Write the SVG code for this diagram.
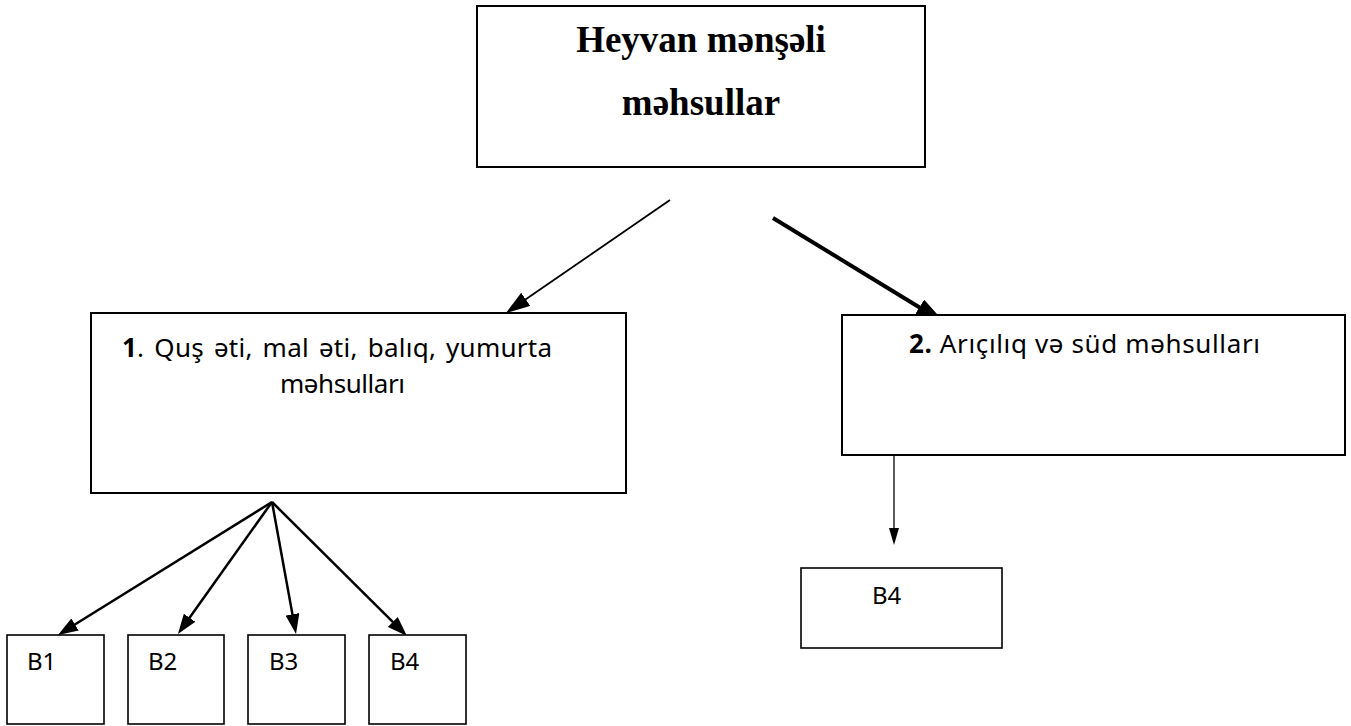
<svg xmlns="http://www.w3.org/2000/svg" width="1351" height="726" viewBox="0 0 1351 726">
<style>
  .box { fill: #ffffff; stroke: #000000; stroke-width: 2; }
  .sbox { fill: #ffffff; stroke: #000000; stroke-width: 1.6; }
  .title { font-family: "Liberation Serif", "Times New Roman", serif; font-weight: bold; font-size: 37px; fill: #000; }
  .lbl { font-family: "Noto Sans", "Open Sans", sans-serif; font-size: 26px; fill: #000; }
  .blbl { font-family: "Noto Sans", "Open Sans", sans-serif; font-size: 24px; fill: #000; }
  .conn { fill: none; stroke: #000; }
</style>
<defs>
  <marker id="headA" markerUnits="userSpaceOnUse" markerWidth="24" markerHeight="16" refX="14" refY="8" orient="auto">
    <path d="M0,0 L24,8 L0,16 z" fill="#000"/>
  </marker>
  <marker id="headB" markerUnits="userSpaceOnUse" markerWidth="30" markerHeight="18" refX="18" refY="9" orient="auto">
    <path d="M0,0 L30,9 L0,18 z" fill="#000"/>
  </marker>
  <marker id="headC" markerUnits="userSpaceOnUse" markerWidth="20" markerHeight="14" refX="12" refY="7" orient="auto">
    <path d="M0,0 L20,7 L0,14 z" fill="#000"/>
  </marker>
  <marker id="headD" markerUnits="userSpaceOnUse" markerWidth="17" markerHeight="10" refX="9" refY="5" orient="auto">
    <path d="M0,0 L17,5 L0,10 z" fill="#000"/>
  </marker>
</defs>
<rect width="1351" height="726" fill="#ffffff"/>

<g id="connectors">
  <line class="conn" x1="670" y1="200" x2="514.2" y2="307.3" stroke-width="1.8" marker-end="url(#headA)"/>
  <line class="conn" x1="773" y1="218" x2="934.8" y2="316.7" stroke-width="4" marker-end="url(#headB)"/>
  <line class="conn" x1="272" y1="502" x2="64.8" y2="630.8" stroke-width="2.5" marker-end="url(#headC)"/>
  <line class="conn" x1="272" y1="502" x2="182.6" y2="627.5" stroke-width="2.5" marker-end="url(#headC)"/>
  <line class="conn" x1="272" y1="502" x2="294.6" y2="626.1" stroke-width="2.5" marker-end="url(#headC)"/>
  <line class="conn" x1="272" y1="502" x2="401.3" y2="630.4" stroke-width="2.5" marker-end="url(#headC)"/>
  <line class="conn" x1="894" y1="456" x2="894" y2="537" stroke-width="1.3" marker-end="url(#headD)"/>
</g>

<g id="node-root">
  <rect class="box" x="477" y="6" width="448" height="161"/>
  <text class="title" x="701" y="52" text-anchor="middle">Heyvan mənşəli</text>
  <text class="title" x="701" y="115" text-anchor="middle">məhsullar</text>
</g>

<g id="node-1">
  <rect class="box" x="91" y="313" width="535" height="180"/>
  <text class="lbl" x="122" y="357" word-spacing="3" textLength="430" lengthAdjust="spacing"><tspan font-weight="bold">1</tspan>. Quş əti, mal əti, balıq, yumurta</text>
  <text class="lbl" x="280" y="393" textLength="125" lengthAdjust="spacing">məhsulları</text>
</g>

<g id="node-2">
  <rect class="box" x="842" y="315" width="503" height="140"/>
  <text class="lbl" x="909" y="353" textLength="351" lengthAdjust="spacing"><tspan font-weight="bold">2.</tspan> Arıçılıq və süd məhsulları</text>
</g>

<g id="node-b1">
  <rect class="sbox" x="7" y="635" width="97" height="89"/>
  <text class="blbl" x="27" y="670">B1</text>
</g>
<g id="node-b2">
  <rect class="sbox" x="128" y="635" width="96" height="89"/>
  <text class="blbl" x="148" y="670">B2</text>
</g>
<g id="node-b3">
  <rect class="sbox" x="248" y="635" width="97" height="89"/>
  <text class="blbl" x="269" y="670">B3</text>
</g>
<g id="node-b4">
  <rect class="sbox" x="369" y="635" width="97" height="89"/>
  <text class="blbl" x="390" y="670">B4</text>
</g>
<g id="node-b4-right">
  <rect class="sbox" x="801" y="568" width="201" height="80"/>
  <text class="blbl" x="872" y="604">B4</text>
</g>
</svg>
